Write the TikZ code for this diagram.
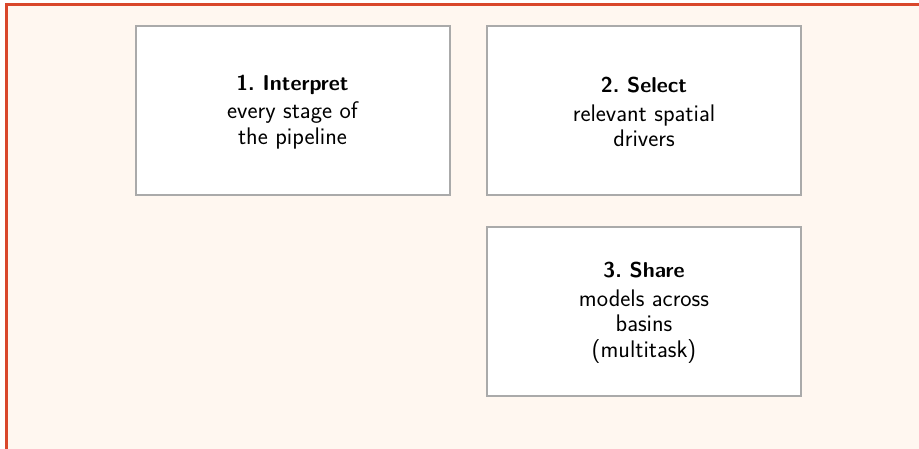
\documentclass[tikz,border=0pt]{standalone}
\usepackage{xcolor}
\definecolor{framered}{HTML}{D9472B}
\definecolor{paper}{HTML}{FFF7F0}
\definecolor{boxgray}{HTML}{AAAAAA}
\tikzset{
  stagebox/.style={draw=boxgray, line width=2pt, fill=white,
    minimum width=314pt, minimum height=169pt, inner sep=0pt},
  stagetext/.style={align=center, inner sep=0pt,
    font=\sffamily\fontsize{24}{25.5}\selectfont},
}
\newcommand{\stagetitle}[1]{{\fontsize{21.5}{25}\selectfont\bfseries #1}\\[3pt]}
\begin{document}
\begin{tikzpicture}[x=1pt,y=-1pt]
  \useasboundingbox (0,0) rectangle (919,449);
  \fill[white] (0,0) rectangle (919,449);
  % outer panel, running past the right and bottom edges
  \begin{scope}
    \clip (0,0) rectangle (919,449);
    \draw[framered, line width=3pt, fill=paper] (6,5) rectangle (940,470);
  \end{scope}
  \node[stagebox] (interpret) at (292.5,110.5) {};
  \node[stagebox] (select) at (644,110.5) {};
  \node[stagebox] (share) at (644,311.5) {};
  % box texts, set a little below the box centres
  \node[stagetext] (interprettext) at ([yshift=-1.5pt]interpret.center)
    {\stagetitle{1.\ Interpret}every stage of\\the pipeline};
  \node[stagetext] (selecttext) at ([yshift=-1.5pt]select.center)
    {\stagetitle{2.\ Select}relevant spatial\\drivers};
  \node[stagetext] (sharetext) at ([yshift=-1.5pt]share.center)
    {\stagetitle{3.\ Share}models across\\basins\\(multitask)};
\end{tikzpicture}
\end{document}
